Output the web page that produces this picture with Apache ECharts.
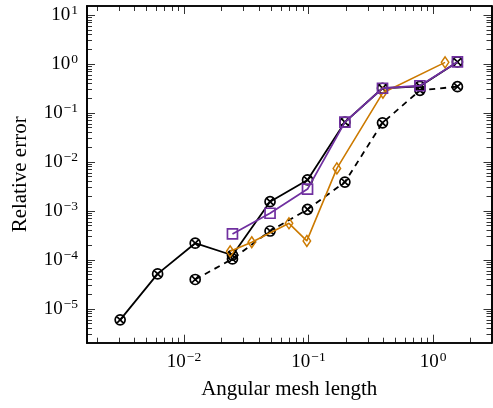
<!DOCTYPE html>
<html><head><meta charset="utf-8">
<script src="https://cdn.jsdelivr.net/npm/echarts@6/dist/echarts.min.js"></script>
<style>html,body{margin:0;padding:0;background:#fff}#c{width:493px;height:408px}</style>
</head><body><div id="c"></div>
<script>
// ---- data ----
const meshX   = [0.00307, 0.00614, 0.0123, 0.0245, 0.0491, 0.0982, 0.196, 0.393, 0.785, 1.571];
const solidY  = [6.0e-6, 5.2e-5, 2.2e-4, 1.25e-4, 1.55e-3, 4.3e-3, 0.065, 0.32, 0.35, 1.1];
const dashedX = [0.0123, 0.0245, 0.0491, 0.0982, 0.196, 0.393, 0.785, 1.571];
const dashedY = [4.0e-5, 1.05e-4, 3.9e-4, 1.08e-3, 3.9e-3, 0.063, 0.29, 0.345];
const purpleX = [0.0245, 0.0491, 0.0982, 0.196, 0.393, 0.785, 1.571];
const purpleY = [3.4e-4, 9.0e-4, 2.8e-3, 0.065, 0.32, 0.36, 1.1];
const orangeX = [0.0235, 0.035, 0.0697, 0.097, 0.169, 0.396, 1.25];
const orangeY = [1.5e-4, 2.3e-4, 5.6e-4, 2.45e-4, 7.4e-3, 0.26, 1.08];
const xMajorTicks = [0.01, 0.1, 1];
const yMajorTicks = [1e-5, 1e-4, 1e-3, 1e-2, 1e-1, 1, 10];
const xName = 'Angular mesh length';
const yName = 'Relative error';

const X_MIN = 0.001663, X_MAX = 2.95, Y_MIN = 2.05e-6, Y_MAX = 15.27;
const F = '"Liberation Serif", "DejaVu Serif", serif';
const PURPLE = '#7030a0', ORANGE = '#cc7a00';

function minorTicks(lo, hi) {
  const out = [];
  for (let e = Math.floor(Math.log10(lo)); e <= Math.ceil(Math.log10(hi)); e++) {
    for (let m = 2; m <= 9; m++) { const v = m * Math.pow(10, e); if (v >= lo && v <= hi) out.push(v); }
  }
  return out;
}
const xMinor = minorTicks(X_MIN, X_MAX), yMinor = minorTicks(Y_MIN, Y_MAX);

function sup(v) {
  const e = Math.round(Math.log10(v));
  return '{b|10}{e|' + (e < 0 ? '\u2212' + (-e) : String(e)) + '}';
}
const rich = {
  b: { fontFamily: F, fontSize: 19, color: '#000', lineHeight: 23 },
  e: { fontFamily: F, fontSize: 13.5, color: '#000', verticalAlign: 'top', padding: [0, 0, 0, 1] }
};

function axis(base, pos, ticks, len, extra) {
  return Object.assign({
    type: 'log', logBase: 10, min: base[0], max: base[1], position: pos,
    splitLine: { show: false },
    axisLine: { show: true, onZero: false, lineStyle: { color: '#000', width: 1.7 } },
    axisTick: { show: true, inside: true, length: len, customValues: ticks, lineStyle: { color: '#000', width: 0.8 } },
    axisLabel: { show: false },
    z: 5
  }, extra || {});
}
const XR = [X_MIN, X_MAX], YR = [Y_MIN, Y_MAX];

const xAxes = [
  axis(XR, 'bottom', xMajorTicks, 8, {
    axisLabel: { show: true, customValues: xMajorTicks, formatter: sup, rich: rich, margin: 8 },
    name: xName, nameLocation: 'middle', nameGap: 36,
    nameTextStyle: { fontFamily: F, fontSize: 21, color: '#000' }
  }),
  axis(XR, 'bottom', xMinor, 5),
  axis(XR, 'top', xMajorTicks, 8),
  axis(XR, 'top', xMinor, 5)
];
const yAxes = [
  axis(YR, 'left', yMajorTicks, 8, {
    axisLabel: { show: true, customValues: yMajorTicks, formatter: sup, rich: rich, margin: 9, align: 'right' },
    name: yName, nameLocation: 'middle', nameGap: 56, nameRotate: 90,
    nameTextStyle: { fontFamily: F, fontSize: 21, color: '#000' }
  }),
  axis(YR, 'left', yMinor, 5),
  axis(YR, 'right', yMajorTicks, 8),
  axis(YR, 'right', yMinor, 5)
];

const OTIMES = 'path://M0,5A5,5,0,1,1,10,5A5,5,0,1,1,0,5ZM1.46,1.46L8.54,8.54M8.54,1.46L1.46,8.54';
const zip = (xs, ys) => xs.map((x, i) => [x, ys[i]]);

const series = [
  { name: 'solid', type: 'line', data: zip(meshX, solidY), symbol: OTIMES, symbolSize: 10,
    lineStyle: { color: '#000', width: 1.8 },
    itemStyle: { color: 'rgba(255,255,255,0)', borderColor: '#000', borderWidth: 1.7 }, z: 2 },
  { name: 'dashed', type: 'line', data: zip(dashedX, dashedY), symbol: OTIMES, symbolSize: 10,
    lineStyle: { color: '#000', width: 1.8, type: [6, 5] },
    itemStyle: { color: 'rgba(255,255,255,0)', borderColor: '#000', borderWidth: 1.7 }, z: 3 },
  { name: 'orange', type: 'line', data: zip(orangeX, orangeY), symbol: 'diamond', symbolSize: [7.5, 11],
    lineStyle: { color: ORANGE, width: 1.6 },
    itemStyle: { color: 'rgba(255,255,255,0)', borderColor: ORANGE, borderWidth: 1.5 }, z: 4 },
  { name: 'purple', type: 'line', data: zip(purpleX, purpleY), symbol: 'rect', symbolSize: 10,
    lineStyle: { color: PURPLE, width: 1.8 },
    itemStyle: { color: 'rgba(255,255,255,0)', borderColor: PURPLE, borderWidth: 1.7 }, z: 5 }
];
series.forEach(s => { s.xAxisIndex = 0; s.yAxisIndex = 0; s.showAllSymbol = true; s.animation = false; s.emphasis = { disabled: true }; });

const chart = echarts.init(document.getElementById('c'), null, { renderer: 'canvas' });
chart.setOption({
  animation: false,
  backgroundColor: '#fff',
  grid: { left: 87, top: 6, width: 404.5, height: 336.7, containLabel: false },
  xAxis: xAxes,
  yAxis: yAxes,
  series: series
});
</script>
</body></html>
